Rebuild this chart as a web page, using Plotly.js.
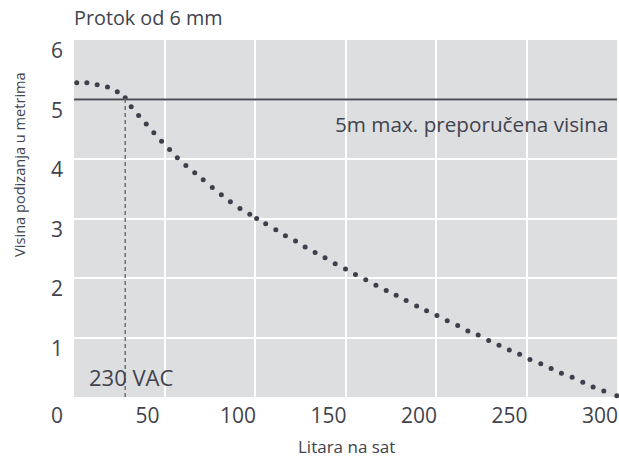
<!DOCTYPE html>
<html>
<head>
<meta charset="utf-8">
<script src="https://cdn.plot.ly/plotly-3.0.1.min.js"></script>
<style>html,body{margin:0;padding:0;background:#fff;}#chart{width:619px;height:459px;}</style>
</head>
<body>
<div id="chart"></div>
<script>
// Flow (litres per hour)
const flow = [1.5, 7.1, 12.8, 18.5, 23.9, 28.3, 31.6, 35.7, 39.9, 44.1, 48.4, 52.8, 57.1, 61.8, 66.7, 71.4,
  76.4, 81.4, 86.4, 91.7, 97.1, 100.9, 105.9, 111.5, 116.8, 122.4, 127.7, 133.2, 138.7,
  144.3, 150.0, 155.5, 161.2, 166.8, 172.5, 178.0, 183.5, 189.3, 194.8, 200.5, 206.2, 212.0, 217.6,
  223.3, 229.1, 234.8, 240.5, 246.2, 251.9, 257.9, 263.6, 269.3, 275.2, 281.1, 286.8, 292.7, 299.9];
// Lift height (metres) at each dot
const height = [5.28, 5.28, 5.25, 5.21, 5.13, 5.03, 4.88, 4.73, 4.59, 4.44, 4.30, 4.16, 4.02, 3.89, 3.77, 3.65,
  3.52, 3.40, 3.28, 3.17, 3.07, 3.00, 2.91, 2.81, 2.71, 2.62, 2.52, 2.43, 2.34,
  2.24, 2.15, 2.06, 1.97, 1.88, 1.79, 1.71, 1.62, 1.53, 1.45, 1.37, 1.28, 1.20, 1.11,
  1.04, 0.95, 0.87, 0.79, 0.72, 0.63, 0.56, 0.48, 0.40, 0.33, 0.25, 0.17, 0.10, 0.02];
const maxHeight = 5;          // recommended max lift
const flowAtMax = 28.3;       // flow where curve crosses the max height (230 VAC)
const heightAtMax = 5.03;
const xTicks = [0, 50, 100, 150, 200, 250, 300];
const yTicks = [1, 2, 3, 4, 5, 6];
const texts = {
  title: 'Protok od 6 mm',
  xTitle: 'Litara na sat',
  yTitle: 'Visina podizanja u metrima',
  maxLabel: '5m max. preporučena visina',
  vacLabel: '230 VAC'
};

const ink = '#41434d';
const font = 'Open Sans, Noto Sans, sans-serif';
const plotH = 357.3;

const data = [{
  type: 'scatter', mode: 'markers', x: flow, y: height,
  marker: {size: 5, color: '#3d3f4a'}, cliponaxis: false, hoverinfo: 'skip'
}];

const layout = {
  width: 619, height: 459,
  margin: {l: 74, r: 2, t: 40, b: 62},
  paper_bgcolor: '#ffffff', plot_bgcolor: '#dddee0',
  showlegend: false,
  font: {family: font, color: ink},
  title: {text: texts.title, x: 0, xanchor: 'left', xref: 'paper', y: 1 - 18/459, yanchor: 'middle', yref: 'container',
    font: {size: 19.8, color: ink, family: font}},
  xaxis: {
    range: [0, 300], tickvals: xTicks, ticktext: xTicks.map(String), showgrid: true, gridcolor: '#ffffff', gridwidth: 2,
    zeroline: false, showline: false, ticks: '', tickfont: {size: 21, color: ink}, ticklabelshift: -17, ticklabelstandoff: 4,
    fixedrange: true
  },
  yaxis: {
    range: [0, 6], tickvals: yTicks, ticktext: yTicks.map(String), showgrid: true, gridcolor: '#ffffff', gridwidth: 2,
    zeroline: false, showline: false, ticks: '', tickfont: {size: 21, color: ink}, ticklabelshift: 11, ticklabelstandoff: 10,
    fixedrange: true
  },
  shapes: [
    {type: 'line', xref: 'paper', x0: 0, x1: 1, yref: 'y', y0: maxHeight, y1: maxHeight, line: {color: '#4a4b53', width: 2}},
    {type: 'line', xref: 'x', x0: flowAtMax, x1: flowAtMax, yref: 'y', y0: 0, y1: heightAtMax, line: {color: '#6e7078', width: 1.5, dash: '4px,3px'}, layer: 'above'}
  ],
  annotations: [
    {text: texts.maxLabel, xref: 'x', yref: 'y', x: 296.5, y: 4.58, xanchor: 'right', yanchor: 'middle', showarrow: false, font: {size: 20.7, color: ink}},
    {text: texts.vacLabel, xref: 'x', yref: 'y', x: 31.5, y: 0.34, xanchor: 'center', yanchor: 'middle', showarrow: false, font: {size: 22, color: ink}},
    {text: texts.xTitle, xref: 'paper', yref: 'paper', x: (346-74)/543, y: (397.3-447)/plotH, xanchor: 'center', yanchor: 'middle', showarrow: false, font: {size: 17, color: ink}},
    {text: texts.yTitle, xref: 'paper', yref: 'paper', x: (19-74)/543, y: (397.3-165)/plotH, xanchor: 'center', yanchor: 'middle', textangle: -90, showarrow: false, font: {size: 14.6, color: ink}}
  ]
};

Plotly.newPlot('chart', data, layout, {displayModeBar: false, staticPlot: true});
</script>
</body>
</html>
